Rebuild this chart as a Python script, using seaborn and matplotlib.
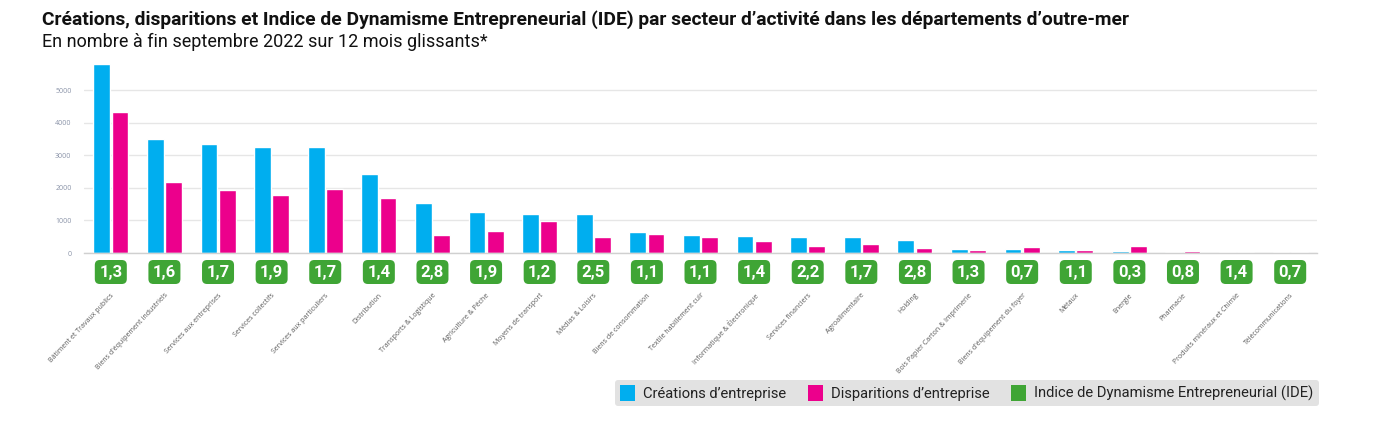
import matplotlib
matplotlib.use("Agg")
import matplotlib.pyplot as plt
import seaborn as sns
import pandas as pd
from matplotlib.patches import Patch, FancyBboxPatch
from matplotlib.transforms import blended_transform_factory

secteurs = [
    "Bâtiment et Travaux publics", "Biens d'équipement industriels", "Services aux entreprises",
    "Services collectifs", "Services aux particuliers", "Distribution", "Transports & Logistique",
    "Agriculture & Pêche", "Moyens de transport", "Médias & Loisirs", "Biens de consommation",
    "Textile habillement cuir", "Informatique & Électronique", "Services financiers",
    "Agroalimentaire", "Holding", "Bois Papier Carton & Imprimerie", "Biens d'équipement du foyer",
    "Métaux", "Energie", "Pharmacie", "Produits minéraux et Chimie", "Télécommunications",
]
creations = [5800, 3500, 3340, 3250, 3250, 2420, 1530, 1260, 1200, 1190, 640, 540, 530, 480,
             480, 400, 120, 120, 100, 60, 40, 28, 20]
disparitions = [4330, 2180, 1930, 1780, 1960, 1690, 550, 670, 980, 480, 590, 480, 370, 220,
                290, 140, 90, 180, 90, 200, 50, 20, 28]
ide = [1.3, 1.6, 1.7, 1.9, 1.7, 1.4, 2.8, 1.9, 1.2, 2.5, 1.1, 1.1, 1.4, 2.2, 1.7, 2.8, 1.3,
       0.7, 1.1, 0.3, 0.8, 1.4, 0.7]
series = ["Créations d’entreprise", "Disparitions d’entreprise"]
ide_name = "Indice de Dynamisme Entrepreneurial (IDE)"
yticks = [0, 1000, 2000, 3000, 4000, 5000]

BLUE = "#00AEEF"
PINK = "#EC008C"
GREEN = "#3FA535"

sns.set_theme(style="white")
plt.rcParams["font.family"] = ["Open Sans", "DejaVu Sans"]

W, H = 1383, 433
fig = plt.figure(figsize=(W / 100, H / 100), dpi=100)
ax_left, ax_right, ax_bottom, ax_top = 84, 1317, 253, 60.7
ax = fig.add_axes([ax_left / W, 1 - ax_bottom / H, (ax_right - ax_left) / W, (ax_bottom - ax_top) / H])

n = len(secteurs)
df = pd.DataFrame({
    "Secteur": secteurs * 2,
    "Valeur": creations + disparitions,
    "Série": [series[0]] * n + [series[1]] * n,
})
sns.barplot(data=df, x="Secteur", y="Valeur", hue="Série", palette=[BLUE, PINK],
            width=0.68, gap=0.08, saturation=1, ax=ax, legend=False)

ax.set_ylim(0, 5900)
ax.set_xlim(-0.5, n - 0.5)
ax.set_yticks(yticks)
ax.set_yticklabels([str(t) for t in yticks], fontsize=5, color="#8a93a8")
ax.yaxis.grid(True, color="#e6e6e6", linewidth=1)
ax.set_axisbelow(True)
for s in ["top", "right", "left"]:
    ax.spines[s].set_visible(False)
ax.spines["bottom"].set_color("#d0d0d0")
ax.spines["bottom"].set_linewidth(1)
ax.set_xlabel("")
ax.set_ylabel("")
ax.tick_params(axis="y", length=0, pad=9)
ax.tick_params(axis="x", length=0, pad=28)
ax.set_xticks(range(n))
ax.set_xticklabels(secteurs, rotation=47, ha="right", rotation_mode="anchor",
                   fontsize=5, color="#5a5a5a")

# IDE boxes
trans = blended_transform_factory(ax.transData, ax.transAxes)
axh = ax_bottom - ax_top
unit = (ax_right - ax_left) / n
bw = 32 / unit
y_top = -(260 - ax_bottom) / axh
bh = 24 / axh
r = 5 / unit
for i, v in enumerate(ide):
    box = FancyBboxPatch((i - bw / 2, y_top - bh), bw, bh,
                         boxstyle=f"round,pad=0,rounding_size={r}",
                         mutation_aspect=(5 / axh) / r,
                         transform=trans, facecolor=GREEN, edgecolor="none", clip_on=False)
    ax.add_patch(box)
    ax.text(i, y_top - bh / 2, f"{v:.1f}".replace(".", ","), transform=trans,
            ha="center", va="center", color="white", fontsize=12, fontweight="bold",
            family=["Roboto", "DejaVu Sans"], clip_on=False)

# Titles
fig.text(42 / W, 1 - 25 / H,
         "Créations, disparitions et Indice de Dynamisme Entrepreneurial (IDE) par secteur d’activité dans les départements d’outre-mer",
         fontsize=13.9, fontweight="bold", family=["Roboto", "DejaVu Sans"],
         color="#111111", va="baseline", ha="left")
fig.text(42 / W, 1 - 47 / H, "En nombre à fin septembre 2022 sur 12 mois glissants*",
         fontsize=13, family=["Roboto", "DejaVu Sans"],
         color="#111111", va="baseline", ha="left")

# Legend
handles = [Patch(facecolor=BLUE, edgecolor="none"), Patch(facecolor=PINK, edgecolor="none"),
           Patch(facecolor=GREEN, edgecolor="none")]
leg = fig.legend(handles, series + [ide_name], loc="center right",
                 bbox_to_anchor=(1326 / W, 1 - 393 / H), ncol=3, frameon=True,
                 prop={"family": ["Roboto", "DejaVu Sans"], "size": 10.6},
                 handlelength=1.0, handleheight=1.3, handletextpad=0.55,
                 columnspacing=1.5, borderpad=0.35, fancybox=True)
leg.get_frame().set_facecolor("#e2e2e2")
leg.get_frame().set_edgecolor("none")
leg.get_frame().set_alpha(1)
for t in leg.get_texts():
    t.set_color("#222222")

fig.savefig("out.png", dpi=100)
